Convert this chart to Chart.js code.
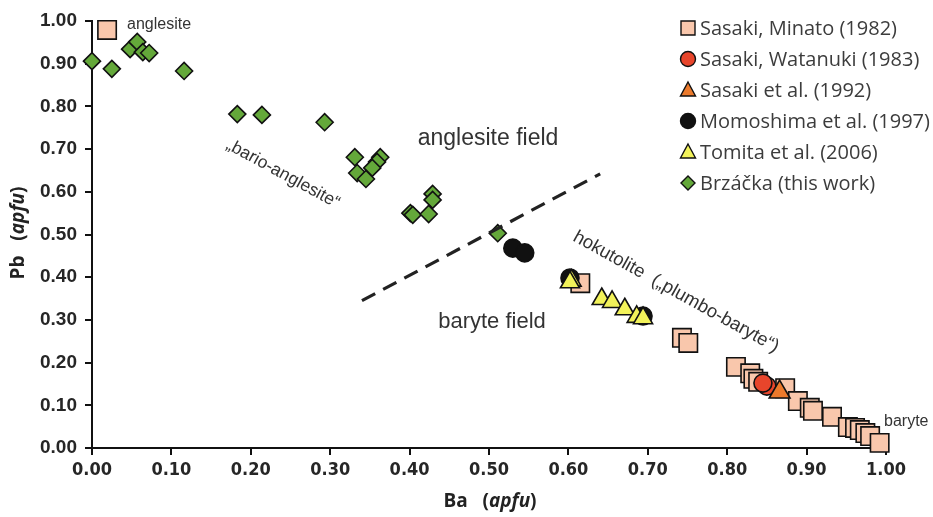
<!DOCTYPE html>
<html><head><meta charset="utf-8">
<script src="https://cdn.jsdelivr.net/npm/chart.js@4"></script>
<style>html,body{margin:0;padding:0;background:#fff}canvas{display:block}</style>
</head><body>
<canvas id="c" width="933" height="517"></canvas>
<script>
// ---- data (Ba apfu, Pb apfu) ----
const seriesNames = ["Sasaki, Minato (1982)", "Sasaki, Watanuki (1983)", "Sasaki et al. (1992)", "Momoshima et al. (1997)", "Tomita et al. (2006)", "Brzáčka (this work)"];
const minatoBa = [0.019, 0.615, 0.743, 0.751, 0.811, 0.829, 0.833, 0.839, 0.873, 0.889, 0.904, 0.908, 0.932, 0.952, 0.961, 0.967, 0.974, 0.980, 0.992];
const minatoPb = [0.979, 0.386, 0.258, 0.246, 0.190, 0.175, 0.162, 0.155, 0.140, 0.110, 0.094, 0.087, 0.073, 0.049, 0.047, 0.042, 0.035, 0.028, 0.012];
const watanukiBa = [0.850, 0.845];
const watanukiPb = [0.145, 0.152];
const sasaki92Ba = [0.866];
const sasaki92Pb = [0.131];
const momoshimaBa = [0.530, 0.545, 0.602, 0.694];
const momoshimaPb = [0.468, 0.457, 0.398, 0.309];
const tomitaBa = [0.604, 0.602, 0.642, 0.655, 0.671, 0.686, 0.694];
const tomitaPb = [0.392, 0.388, 0.349, 0.342, 0.325, 0.307, 0.304];
const brzackaBa = [0.000, 0.025, 0.048, 0.057, 0.064, 0.072, 0.116, 0.183, 0.214, 0.293, 0.331, 0.363, 0.359, 0.353, 0.334, 0.345, 0.429, 0.429, 0.401, 0.404, 0.424, 0.511];
const brzackaPb = [0.906, 0.888, 0.934, 0.951, 0.927, 0.925, 0.883, 0.782, 0.780, 0.763, 0.681, 0.681, 0.670, 0.656, 0.644, 0.630, 0.595, 0.581, 0.550, 0.546, 0.548, 0.503];
const boundaryBa = [0.34, 0.64];
const boundaryPb = [0.345, 0.642];
const tickLabels = ["0.00","0.10","0.20","0.30","0.40","0.50","0.60","0.70","0.80","0.90","1.00"];

const zip = (xs, ys) => xs.map((x, i) => ({x, y: ys[i]}));

const styles = [
  {bg:'#F9C7AC', style:'rect', r:13, order:6},
  {bg:'#E8452B', style:'circle', r:9, order:2},
  {bg:'#EC7A2C', style:'triangle', r:12, order:1},
  {bg:'#111111', style:'circle', r:9, order:5},
  {bg:'#F2F25A', style:'triangle', r:11, order:3},
  {bg:'#64A83A', style:'rectRot', r:8.5, order:4}
];
const seriesData = [zip(minatoBa,minatoPb), zip(watanukiBa,watanukiPb), zip(sasaki92Ba,sasaki92Pb), zip(momoshimaBa,momoshimaPb), zip(tomitaBa,tomitaPb), zip(brzackaBa,brzackaPb)];

const datasets = seriesData.map((d, i) => ({
  label: seriesNames[i], data: d, pointStyle: styles[i].style, pointRadius: styles[i].r,
  pointBackgroundColor: styles[i].bg, pointBorderColor: '#111', pointBorderWidth: 1.6,
  backgroundColor: styles[i].bg, borderColor: '#111', showLine: false, order: styles[i].order, clip: false
}));
datasets.push({label:'boundary', data: zip(boundaryBa, boundaryPb), showLine: true, borderColor:'#222', borderWidth: 3.2,
  borderDash:[15,9], pointRadius:0, order:0, clip:false});

const tickFont = {family: "'Liberation Sans Narrow', 'DejaVu Sans Condensed', Arial, sans-serif", weight:'bold', size:18};
const yTickFont = {family: "'Liberation Sans', Arial, sans-serif", weight:'bold', size:19};

const overlay = {
  id: 'overlay',
  afterDraw(chart) {
    const ctx = chart.ctx;
    ctx.save();
    // annotation texts
    ctx.fillStyle = '#333';
    ctx.textBaseline = 'middle';
    ctx.font = "16px 'Liberation Sans', Arial, sans-serif";
    ctx.textAlign = 'left';
    ctx.fillText('anglesite', 127, 25);
    ctx.fillText('baryte', 884, 422);
    ctx.font = "23px 'Liberation Sans', Arial, sans-serif";
    ctx.textAlign = 'center';
    ctx.fillText('anglesite field', 488, 139);
    ctx.font = "22px 'Liberation Sans', Arial, sans-serif";
    ctx.fillText('baryte field', 492, 322);
    ctx.font = "17.5px 'Liberation Sans', Arial, sans-serif";
    ctx.save(); ctx.translate(283, 174); ctx.rotate(28.6*Math.PI/180);
    ctx.fillText('\u201Ebario-anglesite\u201C', 0, 0); ctx.restore();
    ctx.font = "18.5px 'Liberation Sans', Arial, sans-serif";
    ctx.save(); ctx.translate(676, 292); ctx.rotate(29*Math.PI/180);
    ctx.fillText('hokutolite  (\u201Eplumbo-baryte\u201C)', 0, 0); ctx.restore();

    // axis titles (bold, italic unit)
    const tf = "'Open Sans', 'Liberation Sans', Arial, sans-serif";
    const drawTitle = (cx, cy, rot, p1) => {
      const p2 = '(', p3 = 'apfu', p4 = ')';
      ctx.font = "bold 19px " + tf; const w1 = ctx.measureText(p1).width, w2 = ctx.measureText(p2).width;
      ctx.font = "italic bold 19px " + tf; const w3 = ctx.measureText(p3).width;
      ctx.font = "bold 19px " + tf; const w4 = ctx.measureText(p4).width;
      const x0 = -(w1+w2+w3+w4)/2;
      ctx.save(); ctx.translate(cx, cy); ctx.rotate(rot);
      ctx.fillStyle = '#222'; ctx.textAlign = 'left'; ctx.textBaseline = 'middle';
      ctx.font = "bold 19px " + tf; ctx.fillText(p1, x0, 0); ctx.fillText(p2, x0+w1, 0);
      ctx.font = "italic bold 19px " + tf; ctx.fillText(p3, x0+w1+w2, 0);
      ctx.font = "bold 19px " + tf; ctx.fillText(p4, x0+w1+w2+w3, 0);
      ctx.restore();
    };
    drawTitle(490, 502, 0, 'Ba   ');
    drawTitle(19, 233, -Math.PI/2, 'Pb   ');

    // legend
    const lx = 688, tx = 700, ly0 = 28, dy = 31;
    ctx.font = "20px 'Open Sans', 'Noto Sans', sans-serif";
    ctx.textAlign = 'left'; ctx.textBaseline = 'middle';
    seriesNames.forEach((name, i) => {
      const y = ly0 + i*dy, st = styles[i];
      ctx.fillStyle = st.bg; ctx.strokeStyle = '#111'; ctx.lineWidth = 1.4;
      ctx.beginPath();
      if (st.style === 'rect') ctx.rect(lx-7, y-7, 14, 14);
      else if (st.style === 'circle') ctx.arc(lx, y, 7.5, 0, Math.PI*2);
      else if (st.style === 'triangle') { ctx.moveTo(lx, y-8); ctx.lineTo(lx+7.5, y+6); ctx.lineTo(lx-7.5, y+6); ctx.closePath(); }
      else { ctx.moveTo(lx, y-7); ctx.lineTo(lx+7, y); ctx.lineTo(lx, y+7); ctx.lineTo(lx-7, y); ctx.closePath(); }
      ctx.fill(); ctx.stroke();
      ctx.fillStyle = '#3c3c3c';
      ctx.fillText(name, tx, y+1);
    });
    ctx.restore();
  }
};

new Chart(document.getElementById('c'), {
  type: 'scatter',
  data: { datasets },
  options: {
    responsive: false, animation: false, devicePixelRatio: 1,
    layout: { padding: { top: 21, right: 47, left: 0, bottom: 0 } },
    plugins: { legend: { display: false }, tooltip: { enabled: false } },
    scales: {
      x: {
        type: 'linear', min: 0, max: 1,
        afterFit: s => { s.height = 69; },
        afterBuildTicks: s => { s.ticks = tickLabels.map(t => ({value: parseFloat(t)})); },
        ticks: { padding: 5, color: '#262626', font: tickFont, maxRotation: 0,
          callback: (v, i) => tickLabels[i] },
        grid: { drawOnChartArea: false, drawTicks: true, tickLength: 7, color: '#111', lineWidth: 2 },
        border: { color: '#111', width: 2 }
      },
      y: {
        type: 'linear', min: 0, max: 1,
        afterFit: s => { s.width = 92; },
        afterBuildTicks: s => { s.ticks = tickLabels.map(t => ({value: parseFloat(t)})); },
        ticks: { padding: 8, color: '#262626', font: yTickFont,
          callback: (v, i) => tickLabels[i] },
        grid: { drawOnChartArea: false, drawTicks: true, tickLength: 7, color: '#111', lineWidth: 2 },
        border: { color: '#111', width: 2 }
      }
    }
  },
  plugins: [overlay]
});
</script>
</body></html>
